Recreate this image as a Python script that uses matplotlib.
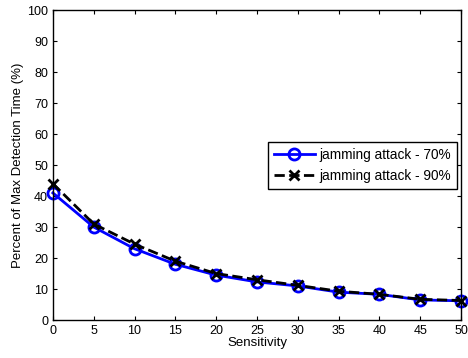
import matplotlib
matplotlib.use('Agg')
import matplotlib.pyplot as plt

sensitivity = [0, 5, 10, 15, 20, 25, 30, 35, 40, 45, 50]
attack_70 = [41, 30, 23, 18, 14.5, 12.3, 11, 9, 8.3, 6.5, 6.2]
attack_90 = [44, 31, 24.5, 19, 15, 13, 11.2, 9.3, 8.3, 6.7, 6.3]
labels = ['jamming attack - 70%', 'jamming attack - 90%']

plt.rcParams['font.family'] = ['Liberation Sans', 'DejaVu Sans']

fig = plt.figure(figsize=(4.68, 3.58), dpi=100)
ax = fig.add_axes([0.113, 0.106, 0.872, 0.866])

ax.plot(sensitivity, attack_70, '-o', color='blue', linewidth=2, clip_on=False,
        markersize=8, markerfacecolor='none', markeredgewidth=2, label=labels[0])
ax.plot(sensitivity, attack_90, '--x', color='black', linewidth=2, clip_on=False,
        markersize=7, markeredgewidth=2, label=labels[1])

ax.set_xlim(0, 50)
ax.set_ylim(0, 100)
ax.set_xticks(range(0, 51, 5))
ax.set_yticks(range(0, 101, 10))
ax.tick_params(direction='in', top=True, right=True, labelsize=9, length=3)
ax.set_xlabel('Sensitivity', fontsize=9.5, labelpad=0)
ax.set_ylabel('Percent of Max Detection Time (%)', fontsize=9.5, labelpad=2)
for s in ax.spines.values():
    s.set_linewidth(1)

leg = ax.legend(loc='upper left', bbox_to_anchor=(0.527, 0.574), borderaxespad=0,
                fontsize=9.8, fancybox=False, edgecolor='black', framealpha=1,
                handlelength=3.0, borderpad=0.45, labelspacing=0.5, handletextpad=0.35)
leg.get_frame().set_linewidth(1)

fig.savefig('out.png', dpi=100)
